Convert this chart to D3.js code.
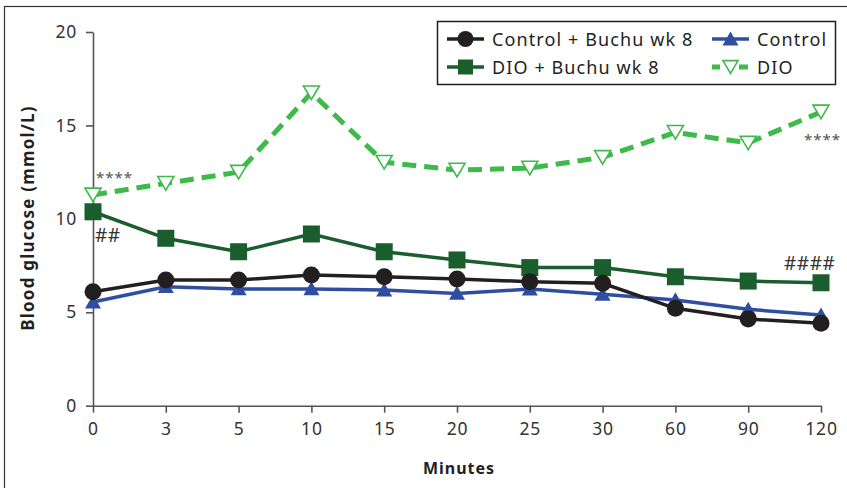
<!DOCTYPE html>
<html><head><meta charset="utf-8">
<script src="https://cdn.jsdelivr.net/npm/d3@7"></script>
<style>body{margin:0;background:#fff}svg{display:block}</style>
</head><body>
<svg id="c" width="847" height="488"></svg>
<script>
const minutes = ["0","3","5","10","15","20","25","30","60","90","120"];
const controlBuchu = [6.10,6.73,6.73,7.00,6.90,6.78,6.64,6.55,5.21,4.64,4.41];
const control      = [5.55,6.37,6.25,6.25,6.19,6.01,6.24,5.96,5.66,5.16,4.85];
const dioBuchu     = [10.38,8.96,8.24,9.19,8.24,7.80,7.39,7.39,6.90,6.67,6.58];
const dio          = [11.28,11.9,12.5,16.75,13.03,12.61,12.72,13.29,14.63,14.06,15.72];
const yTicks = [0,5,10,15,20];
const seriesNames = ["Control + Buchu wk 8","Control","DIO + Buchu wk 8","DIO"];

const font = "'Noto Sans', sans-serif";
const svg = d3.select("#c");
svg.append("rect").attr("x",4.5).attr("y",6.5).attr("width",900).attr("height",600)
  .attr("fill","none").attr("stroke","#333").attr("stroke-width",1.2);

const x = d3.scalePoint().domain(minutes).range([93,821]);
const y = d3.scaleLinear().domain([0,20]).range([405.7,32]);
const axisCol = "#555";

const gx = svg.append("g").attr("transform","translate(0,405.7)")
  .call(d3.axisBottom(x).tickSize(7).tickSizeOuter(0).tickPadding(10));
const gy = svg.append("g").attr("transform","translate(93,0)")
  .call(d3.axisLeft(y).tickValues(yTicks).tickSize(7).tickSizeOuter(0).tickPadding(9));
[gx,gy].forEach(g=>{
  g.select(".domain").attr("stroke",axisCol).attr("stroke-width",1.6);
  g.selectAll(".tick line").attr("stroke",axisCol).attr("stroke-width",1.6);
  g.selectAll("text").attr("fill","#333").style("font-family",font).style("font-size","17.5px")
    .style("letter-spacing","0.8px");
});

svg.append("text").attr("x",459).attr("y",474).attr("text-anchor","middle")
  .style("font-family",font).style("font-size","16px").style("font-weight","bold")
  .style("letter-spacing","1px").attr("fill","#231f20").text("Minutes");
svg.append("text").attr("transform","translate(34,218) rotate(-90)").attr("text-anchor","middle")
  .style("font-family",font).style("font-size","17px").style("font-weight","bold")
  .style("letter-spacing","1.2px").attr("fill","#231f20").text("Blood glucose (mmol/L)");

const cols = {black:"#231f20", blue:"#2f4ea2", dgreen:"#1b5e2d", lgreen:"#3dba4a"};
const line = d3.line().x((d,i)=>x(minutes[i])).y(d=>y(d));

// DIO dashed
svg.append("path").datum(dio).attr("d",line).attr("fill","none").attr("stroke",cols.lgreen)
  .attr("stroke-width",5).attr("stroke-dasharray","14,8");
const downTri = (cx,cy,s)=>`M${cx-s},${cy-s*0.85}L${cx+s},${cy-s*0.85}L${cx},${cy+s*0.85}Z`;
svg.selectAll(".dio").data(dio).enter().append("path")
  .attr("d",(d,i)=>downTri(x(minutes[i]),y(d),8))
  .attr("fill","#fff").attr("stroke",cols.lgreen).attr("stroke-width",1.6);

// DIO + Buchu
svg.append("path").datum(dioBuchu).attr("d",line).attr("fill","none").attr("stroke",cols.dgreen).attr("stroke-width",3.5);
svg.selectAll(".db").data(dioBuchu).enter().append("rect")
  .attr("x",(d,i)=>x(minutes[i])-8.5).attr("y",d=>y(d)-8.5).attr("width",17).attr("height",17).attr("fill",cols.dgreen);

// Control
const upTri = (cx,cy,s)=>`M${cx-s},${cy+s*0.8}L${cx+s},${cy+s*0.8}L${cx},${cy-s*0.95}Z`;
svg.append("path").datum(control).attr("d",line).attr("fill","none").attr("stroke",cols.blue).attr("stroke-width",3.5);
svg.selectAll(".ct").data(control).enter().append("path")
  .attr("d",(d,i)=>upTri(x(minutes[i]),y(d),8)).attr("fill",cols.blue);

// Control + Buchu
svg.append("path").datum(controlBuchu).attr("d",line).attr("fill","none").attr("stroke",cols.black).attr("stroke-width",3.5);
svg.selectAll(".cb").data(controlBuchu).enter().append("circle")
  .attr("cx",(d,i)=>x(minutes[i])).attr("cy",d=>y(d)).attr("r",8.5).attr("fill",cols.black);

// annotations
const ann = (tx,ty,t,sz,col,ls)=>svg.append("text").attr("x",tx).attr("y",ty).text(t)
  .style("font-family",font).style("font-size",sz).style("letter-spacing",ls).attr("fill",col);
ann(96,183,"****","15px","#555","1px");
ann(95,242,"##","19px","#333","0.6px");
ann(784,270,"####","19px","#333","0.6px");
ann(804,145,"****","15px","#555","1px");

// legend
svg.append("rect").attr("x",437.5).attr("y",21.5).attr("width",398).attr("height",63)
  .attr("fill","#fff").attr("stroke","#231f20").attr("stroke-width",1.5);
const lg = [
  {n:seriesNames[0],c:cols.black,x0:447,y0:39,m:"circle"},
  {n:seriesNames[1],c:cols.blue,x0:712,y0:39,m:"up"},
  {n:seriesNames[2],c:cols.dgreen,x0:447,y0:67,m:"square"},
  {n:seriesNames[3],c:cols.lgreen,x0:712,y0:67,m:"down"}
];
lg.forEach(e=>{
  const g = svg.append("g");
  const l = g.append("line").attr("x1",e.x0).attr("x2",e.x0+37).attr("y1",e.y0).attr("y2",e.y0)
    .attr("stroke",e.c).attr("stroke-width",e.m==="down"?5:3.5);
  const cx = e.x0+18.5;
  if(e.m==="down") l.attr("stroke-dasharray","8,19,9");
  if(e.m==="circle") g.append("circle").attr("cx",cx).attr("cy",e.y0).attr("r",8).attr("fill",e.c);
  if(e.m==="square") g.append("rect").attr("x",cx-7.5).attr("y",e.y0-7.5).attr("width",15).attr("height",15).attr("fill",e.c);
  if(e.m==="up") g.append("path").attr("d",upTri(cx,e.y0,8)).attr("fill",e.c);
  if(e.m==="down") g.append("path").attr("d",downTri(cx,e.y0,7.5)).attr("fill","#fff").attr("stroke",e.c).attr("stroke-width",1.6);
  g.append("text").attr("x",e.x0+45).attr("y",e.y0+6.5).text(e.n)
    .style("font-family",font).style("font-size","18px").style("letter-spacing","1.1px").attr("fill","#231f20");
});
</script>
</body></html>
